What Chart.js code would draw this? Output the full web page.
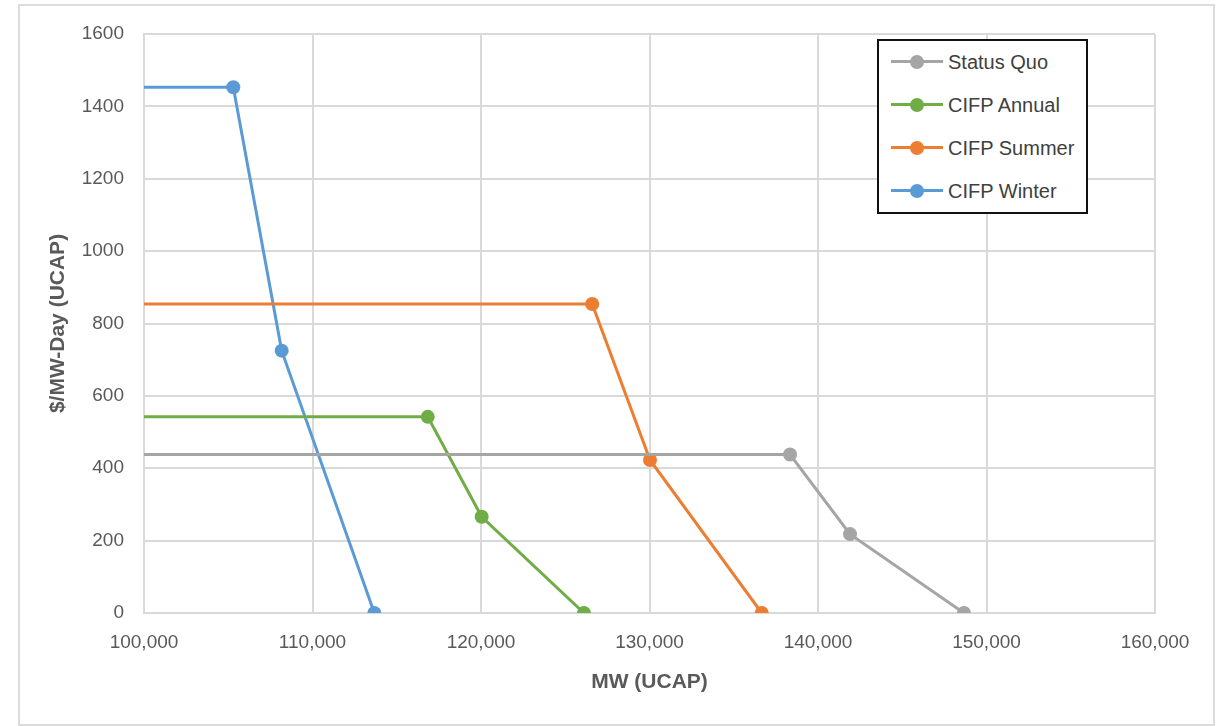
<!DOCTYPE html>
<html>
<head>
<meta charset="utf-8">
<script src="https://cdn.jsdelivr.net/npm/chart.js@4.4.1/dist/chart.umd.min.js"></script>
<style>
  html, body { margin: 0; padding: 0; background: #fff; }
  #wrap { position: relative; width: 1220px; height: 726px; overflow: hidden; }
  #frame { position: absolute; left: 18px; top: 4px; width: 1193px; height: 718px;
           border: 2px solid #dcdcdc; pointer-events: none; }
  #legend { position: absolute; left: 877px; top: 39px; width: 207px; height: 171px;
            border: 2px solid #111; background: #fff; box-sizing: content-box; }
  .item { position: absolute; left: 12px; height: 30px; display: flex; align-items: center;
          white-space: nowrap;
          font-family: 'Liberation Sans Narrow', 'Arial Narrow', 'Liberation Sans', sans-serif;
          font-size: 20px; color: #404040; }
  .sym { position: relative; width: 52px; height: 14px; margin-right: 5px; flex: none; }
  .sym .ln { position: absolute; left: 0; right: 0; top: 5px; height: 3px; }
  .sym .dt { position: absolute; left: 19px; top: 0; width: 14px; height: 14px; border-radius: 50%; }
</style>
</head>
<body>
<div id="wrap">
  <canvas id="grafico"></canvas>
  <div id="frame"></div>
  <div id="legend"></div>
</div>
<script>
// =================== DATOS ===================
const seriesNames = ['Status Quo', 'CIFP Annual', 'CIFP Summer', 'CIFP Winter'];
const seriesColors = ['#a5a5a5', '#70ad47', '#ed7d31', '#5b9bd5'];

// MW (UCAP) y $/MW-Day (UCAP) por serie
const statusQuoMW = [100000, 138340, 141900, 148660];
const statusQuoPrice = [438, 438, 218, 0];
const annualMW = [100000, 116840, 120040, 126110];
const annualPrice = [542, 542, 266, 0];
const summerMW = [100000, 126600, 130030, 136660];
const summerPrice = [854, 854, 423, 0];
const winterMW = [100000, 105300, 108170, 113670];
const winterPrice = [1453, 1453, 725, 0];

const xTicks = [100000, 110000, 120000, 130000, 140000, 150000, 160000];
const yTicks = [0, 200, 400, 600, 800, 1000, 1200, 1400, 1600];

const FONT = "'Liberation Sans Narrow', 'Arial Narrow', 'Liberation Sans', sans-serif";
const GRID = '#d9d9d9';
const TEXT = '#595959';

// =================== UTILIDADES ===================
function armarSerie(mw, price) {
  return mw.map((x, i) => ({ x, y: price[i] }));
}

const allSeries = [
  armarSerie(statusQuoMW, statusQuoPrice),
  armarSerie(annualMW, annualPrice),
  armarSerie(summerMW, summerPrice),
  armarSerie(winterMW, winterPrice)
];

const datasets = allSeries.map((data, i) => ({
  label: seriesNames[i],
  data,
  borderColor: seriesColors[i],
  backgroundColor: seriesColors[i],
  borderWidth: 3,
  // el primer punto (borde izquierdo) va sin marcador
  pointRadius: data.map((_, j) => (j === 0 ? 0 : 7)),
  pointBorderWidth: 0,
  tension: 0
}));

// =================== LEYENDA ===================
const legend = document.getElementById('legend');
seriesNames.forEach((name, i) => {
  const it = document.createElement('div');
  it.className = 'item';
  it.style.top = (6 + i * 43) + 'px';
  it.innerHTML = `<span class="sym"><span class="ln" style="background:${seriesColors[i]}"></span>` +
    `<span class="dt" style="background:${seriesColors[i]}"></span></span>${name}`;
  legend.appendChild(it);
});

// =================== GRÁFICO ===================
new Chart(document.getElementById('grafico'), {
  type: 'line',
  data: { datasets },
  options: {
    responsive: true,
    maintainAspectRatio: false,
    animation: false,
    layout: { padding: { left: 30, right: 65, top: 34, bottom: 20 } },
    plugins: { legend: { display: false }, tooltip: { enabled: false } },
    scales: {
      x: {
        type: 'linear',
        min: 100000,
        max: 160000,
        afterBuildTicks: s => { s.ticks = xTicks.map(v => ({ value: v })); },
        afterFit: s => { s.height = 93; },
        grid: { color: GRID, lineWidth: 2, drawTicks: false },
        border: { color: GRID, width: 2 },
        ticks: {
          padding: 18,
          color: TEXT,
          font: { family: FONT, size: 19 },
          callback: v => v.toLocaleString('en-US')
        },
        title: {
          display: true,
          text: 'MW (UCAP)',
          color: TEXT,
          font: { family: FONT, size: 21, weight: 'bold' },
          padding: { top: 0, bottom: 11 }
        }
      },
      y: {
        min: 0,
        max: 1600,
        afterBuildTicks: s => { s.ticks = yTicks.map(v => ({ value: v })); },
        afterFit: s => { s.width = 114; },
        grid: { color: GRID, lineWidth: 2, drawTicks: false },
        border: { color: GRID, width: 2 },
        ticks: {
          padding: 20,
          color: TEXT,
          font: { family: FONT, size: 19 },
          callback: v => String(v)
        },
        title: {
          display: true,
          text: '$/MW-Day (UCAP)',
          color: TEXT,
          font: { family: FONT, size: 21, weight: 'bold' },
          padding: { top: 16, bottom: 0 }
        }
      }
    }
  }
});
</script>
</body>
</html>
